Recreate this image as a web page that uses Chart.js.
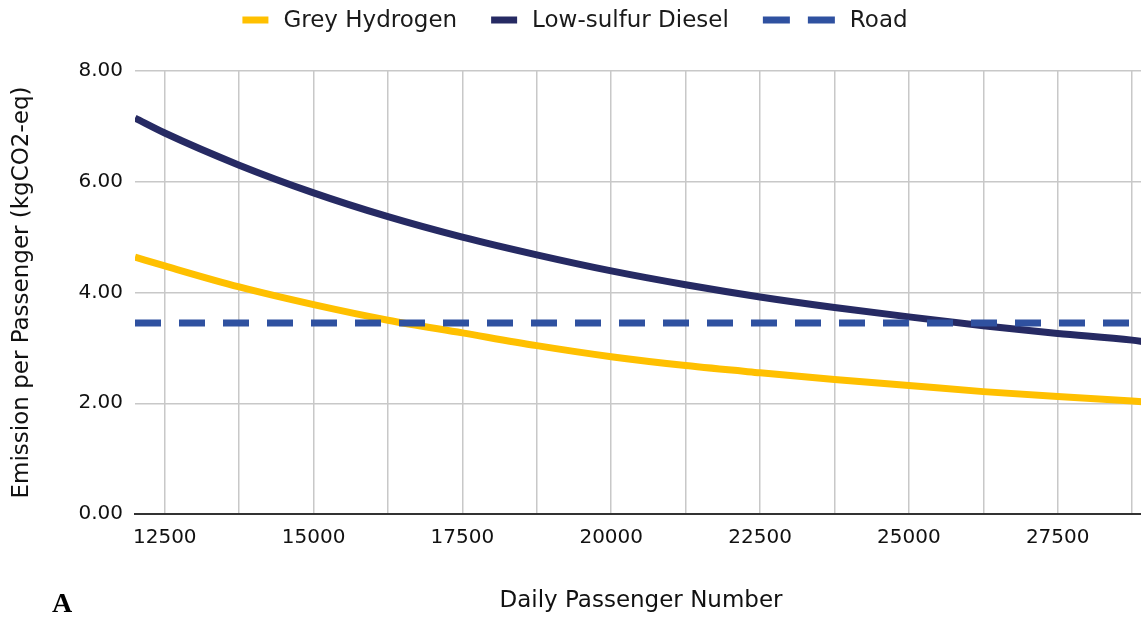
<!DOCTYPE html>
<html>
<head>
<meta charset="utf-8">
<script src="https://cdn.jsdelivr.net/npm/chart.js@4.4.1/dist/chart.umd.min.js"></script>
<style>
  html, body { margin: 0; padding: 0; background: #fff; overflow: hidden; }
  #wrap { position: relative; width: 1150px; height: 620px; }
  #panel { position: absolute; left: 52px; top: 587px; line-height: 1; font: bold 28px "Liberation Serif", "DejaVu Serif", serif; color: #000; }
</style>
</head>
<body>
<div id="wrap">
  <canvas id="grafica" width="1150" height="620"></canvas>
  <div id="panel">A</div>
</div>
<script>
// Datos
const pasajeros = [12000, 12500, 13750, 15000, 16250, 17500, 18750, 20000, 21250, 22500, 23750, 25000, 26250, 27500, 28750, 29000];
const hidrogenoGris = [4.64, 4.48, 4.10, 3.78, 3.50, 3.27, 3.04, 2.84, 2.68, 2.55, 2.43, 2.32, 2.21, 2.12, 2.04, 2.02];
const dieselBajoAzufre = [7.15, 6.88, 6.30, 5.80, 5.37, 5.00, 4.68, 4.39, 4.14, 3.92, 3.73, 3.56, 3.40, 3.26, 3.14, 3.10];
const carretera = [3.45, 3.45, 3.45, 3.45, 3.45, 3.45, 3.45, 3.45, 3.45, 3.45, 3.45, 3.45, 3.45, 3.45, 3.45, 3.45];

const xTicks = [12500, 13750, 15000, 16250, 17500, 18750, 20000, 21250, 22500, 23750, 25000, 26250, 27500, 28750];
const yTicks = [0, 2, 4, 6, 8];

const series = [
    { label: "Grey Hydrogen", values: hidrogenoGris, color: "#FFC000", dash: [] },
    { label: "Low-sulfur Diesel", values: dieselBajoAzufre, color: "#262A63", dash: [] },
    { label: "Road", values: carretera, color: "#2F51A0", dash: [26, 18] }
];

const fuente = '"DejaVu Sans", Verdana, sans-serif';

// Leyenda dibujada arriba (muestras de linea de distinto ancho)
const leyendaSuperior = {
    id: 'leyendaSuperior',
    afterDraw(chart) {
        const ctx = chart.ctx;
        ctx.save();
        ctx.font = '23px ' + fuente;
        ctx.textBaseline = 'middle';
        const y = 20;
        const items = series.map(s => {
            const sw = s.dash.length ? 72 : 26;
            return { s: s, sw: sw, tw: ctx.measureText(s.label).width };
        });
        const gapText = 15, gapItem = 34;
        let total = 0;
        items.forEach((it, i) => { total += it.sw + gapText + it.tw + (i ? gapItem : 0); });
        let x = chart.width / 2 - total / 2;
        items.forEach(it => {
            ctx.strokeStyle = it.s.color;
            ctx.lineWidth = 7;
            ctx.lineCap = 'butt';
            ctx.setLineDash(it.s.dash.length ? [27, 18] : []);
            ctx.beginPath();
            ctx.moveTo(x, y);
            ctx.lineTo(x + it.sw, y);
            ctx.stroke();
            ctx.setLineDash([]);
            ctx.fillStyle = '#1a1a1a';
            ctx.fillText(it.s.label, x + it.sw + gapText, y + 1);
            x += it.sw + gapText + it.tw + gapItem;
        });
        ctx.restore();
    }
};

const ctx = document.getElementById("grafica").getContext("2d");
new Chart(ctx, {
    type: "line",
    data: {
        datasets: series.map((s, i) => ({
            label: s.label,
            data: pasajeros.map((p, j) => ({ x: p, y: s.values[j] })),
            borderColor: s.color,
            backgroundColor: s.color,
            borderWidth: 7,
            borderDash: s.dash,
            borderCapStyle: 'butt',
            pointRadius: 0,
            cubicInterpolationMode: 'monotone',
            order: s.dash.length ? -1 : i
        }))
    },
    options: {
        responsive: false,
        animation: false,
        layout: { padding: { top: 71, right: 3, bottom: 0, left: 0 } },
        plugins: {
            legend: { display: false },
            tooltip: { enabled: false }
        },
        scales: {
            x: {
                type: 'linear',
                min: 12000,
                max: 29000,
                afterBuildTicks: axis => { axis.ticks = xTicks.map(v => ({ value: v })); },
                afterFit: scale => { scale.height = 106; },
                grid: { color: '#c8c8c8', lineWidth: 1.5, drawTicks: false },
                border: { display: true, color: '#333333', width: 2 },
                ticks: {
                    padding: 12,
                    maxRotation: 0,
                    autoSkip: false,
                    color: '#111',
                    font: { family: fuente, size: 20 },
                    callback: v => (v % 2500 === 0 ? String(v) : '')
                },
                title: {
                    display: true,
                    text: 'Daily Passenger Number',
                    color: '#111',
                    font: { family: fuente, size: 23 },
                    padding: { top: 0, bottom: 5 }
                }
            },
            y: {
                min: 0,
                max: 8,
                afterBuildTicks: axis => { axis.ticks = yTicks.map(v => ({ value: v })); },
                afterFit: scale => { scale.width = 135; },
                grid: { color: '#c8c8c8', lineWidth: 1.5, drawTicks: false },
                border: { display: false },
                ticks: {
                    padding: 12,
                    color: '#111',
                    font: { family: fuente, size: 20 },
                    callback: v => v.toFixed(2)
                },
                title: {
                    display: true,
                    text: 'Emission per Passenger (kgCO2-eq)',
                    color: '#111',
                    font: { family: fuente, size: 23 },
                    padding: { top: 8, bottom: 0 }
                }
            }
        }
    },
    plugins: [leyendaSuperior]
});
</script>
</body>
</html>
